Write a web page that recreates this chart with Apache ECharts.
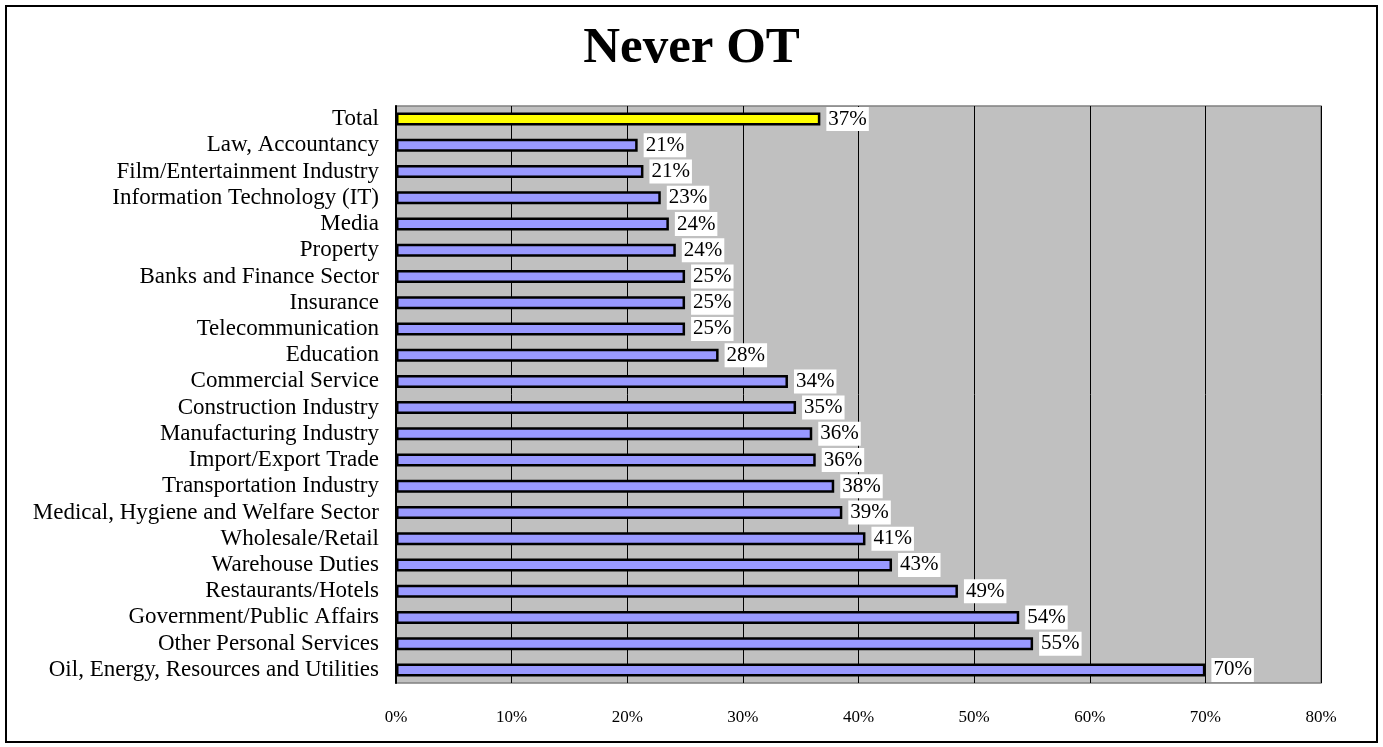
<!DOCTYPE html>
<html>
<head>
<meta charset="utf-8">
<title>Never OT</title>
<script src="https://cdn.jsdelivr.net/npm/echarts@6/dist/echarts.min.js"></script>
<style>
  html, body { margin: 0; padding: 0; background: #fff; }
  #chart { width: 1383px; height: 747px; }
</style>
</head>
<body>
<div id="chart"></div>
<script>
// categories, top to bottom as shown
const categories = [
  'Total',
  'Law, Accountancy',
  'Film/Entertainment Industry',
  'Information Technology (IT)',
  'Media',
  'Property',
  'Banks and Finance Sector',
  'Insurance',
  'Telecommunication',
  'Education',
  'Commercial Service',
  'Construction Industry',
  'Manufacturing Industry',
  'Import/Export Trade',
  'Transportation Industry',
  'Medical, Hygiene and Welfare Sector',
  'Wholesale/Retail',
  'Warehouse Duties',
  'Restaurants/Hotels',
  'Government/Public Affairs',
  'Other Personal Services',
  'Oil, Energy, Resources and Utilities'
];

// share who never work overtime (%)
const neverOT = [
  36.7, 20.9, 21.4, 22.9, 23.6, 24.2, 25.0, 25.0, 25.0, 27.9, 33.9,
  34.6, 36.0, 36.3, 37.9, 38.6, 40.6, 42.9, 48.6, 53.9, 55.1, 70.0
];

const xTicks = [0, 10, 20, 30, 40, 50, 60, 70, 80];

const chart = echarts.init(document.getElementById('chart'));

const font = '"Liberation Serif", "Times New Roman", serif';

const option = {
  animation: false,
  backgroundColor: '#ffffff',
  title: {
    text: 'Never OT',
    left: 'center',
    top: 18,
    textStyle: {
      fontFamily: font,
      fontSize: 51,
      fontWeight: 'bold',
      color: '#000'
    }
  },
  graphic: [
    {
      type: 'rect',
      shape: { x: 6, y: 6, width: 1371, height: 736 },
      style: { fill: 'none', stroke: '#000', lineWidth: 2 },
      silent: true
    }
  ],
  grid: {
    left: 396,
    right: 62,
    top: 106,
    bottom: 64,
    show: true,
    backgroundColor: '#c0c0c0',
    borderColor: '#808080',
    borderWidth: 1.5
  },
  xAxis: {
    type: 'value',
    min: xTicks[0],
    max: xTicks[xTicks.length - 1],
    interval: 10,
    axisLine: { show: false },
    axisTick: { show: false },
    axisLabel: {
      margin: 26,
      fontFamily: font,
      fontSize: 17,
      color: '#000',
      formatter: '{value}%'
    },
    splitLine: { lineStyle: { color: '#000', width: 1 } }
  },
  yAxis: {
    type: 'category',
    inverse: true,
    data: categories,
    axisLine: { lineStyle: { color: '#000', width: 2 } },
    axisTick: { inside: true, length: 5, interval: 0, lineStyle: { color: '#000' } },
    axisLabel: {
      interval: 0,
      margin: 17,
      fontFamily: font,
      fontSize: 23,
      color: '#000'
    }
  },
  series: [
    {
      type: 'bar',
      barWidth: 13,
      data: neverOT.map((v, i) => ({
        value: v,
        itemStyle: { color: i === 0 ? '#ffff00' : '#9999ff' }
      })),
      itemStyle: { borderColor: '#000', borderWidth: 2.5 },
      label: {
        show: true,
        position: 'right',
        distance: 6,
        backgroundColor: '#fff',
        padding: [2, 2, 1, 2],
        fontFamily: font,
        fontSize: 21,
        color: '#000',
        formatter: p => Math.round(p.value) + '%'
      }
    }
  ]
};

chart.setOption(option);

window.addEventListener('resize', () => {
  chart.resize();
});
</script>
</body>
</html>
